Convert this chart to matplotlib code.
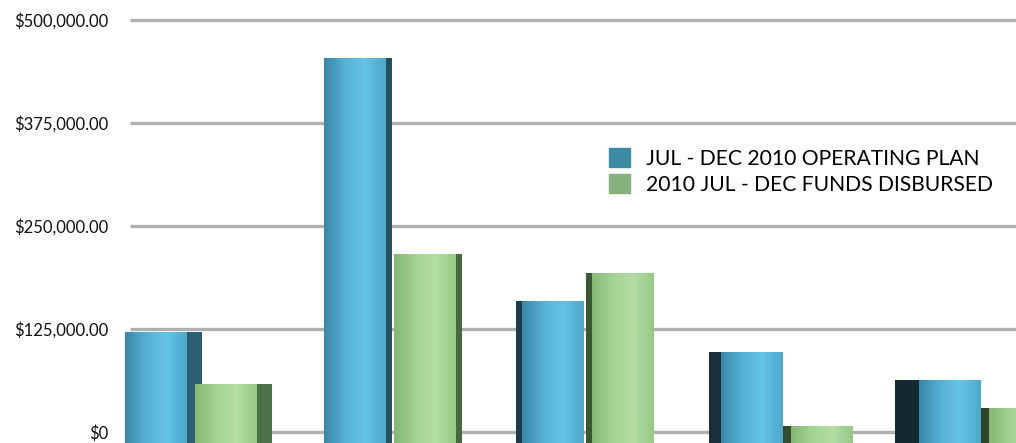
"""plot.py"""

import matplotlib
matplotlib.use("Agg")
import matplotlib.pyplot as plt
import numpy as np
from matplotlib.colors import LinearSegmentedColormap
from matplotlib.ticker import FixedLocator

# five spending categories, values in dollars
groups = ["A", "B", "C", "D", "E"]
operating_plan = [122000, 454000, 159000, 97000, 63000]
funds_disbursed = [59000, 216000, 193000, 8000, 29000]
series_names = ["JUL - DEC 2010 OPERATING PLAN", "2010 JUL - DEC FUNDS DISBURSED"]
y_ticks = [0, 125000, 250000, 375000, 500000]
y_tick_labels = ["$0", "$125,000.00", "$250,000.00", "$375,000.00", "$500,000.00"]

plt.rcParams["font.family"] = ["Lato", "DejaVu Sans"]

# per-group depth of the visible side face (negative = left side)
side_depth = [0.075, 0.035, -0.03, -0.06, -0.125]
side_shade = ["#2c5f72", "#25505f", "#1c3c48", "#182f38", "#142830"]
green_shade = ["#4c7248", "#46693f", "#3a5734", "#334d2e", "#2e4429"]
front_w = 0.31
offset = 0.176

blue_cmap = LinearSegmentedColormap.from_list("b", ["#3a88a8", "#56b0d4", "#66c4e8", "#4ea8ca"])
green_cmap = LinearSegmentedColormap.from_list("g", ["#84b874", "#a4d294", "#b4dea6", "#98c888"])

fig = plt.figure(figsize=(10.16, 4.43), dpi=100)
ax = fig.add_axes([118 / 1016, 0, 1 - 118 / 1016, 1])
base = -13000

x = np.arange(len(groups))

# gridlines
ax.hlines(y_ticks, -0.31, 4.156, color="#b0b0b0", lw=2.4, zorder=0)


def draw_bars(xpos, values, cmap, shades):
    for i, (xc, v) in enumerate(zip(xpos, values)):
        d = side_depth[i]
        sx = xc + front_w / 2 if d > 0 else xc - front_w / 2 + d
        ax.bar(sx, v - base, width=abs(d), bottom=base, align="edge",
               color=shades[i], zorder=2)
    fronts = ax.bar(xpos, np.array(values) - base, width=front_w, bottom=base,
                    color="none", zorder=3)
    grad = np.linspace(0, 1, 64).reshape(1, -1)
    for p in fronts:
        x0, y0 = p.get_x(), p.get_y()
        im = ax.imshow(grad, cmap=cmap, aspect="auto", zorder=3,
                       extent=[x0, x0 + p.get_width(), y0, y0 + p.get_height()])
        im.set_clip_path(p)


draw_bars(x - offset, operating_plan, blue_cmap, side_shade)
draw_bars(x + offset, funds_disbursed, green_cmap, green_shade)
ax.set_xlim(-0.368, 4.156)
ax.set_ylim(base, 524000)

ax.yaxis.set_major_locator(FixedLocator(y_ticks))
ax.set_yticklabels(y_tick_labels, fontsize=12, color="#111111")
ax.tick_params(axis="y", length=0, pad=7)
ax.set_xticks([])
for s in ax.spines.values():
    s.set_visible(False)

handles = [plt.Rectangle((0, 0), 1, 1, color="#3a8aa2"),
           plt.Rectangle((0, 0), 1, 1, color="#86b07c")]
ax.legend(handles, series_names, loc="upper left", bbox_to_anchor=(0.535, 0.69),
          frameon=False, fontsize=15.2, handlelength=1.0, handleheight=1.05,
          handletextpad=0.75, labelspacing=0.22, borderpad=0)

fig.savefig("out.png", dpi=100)
